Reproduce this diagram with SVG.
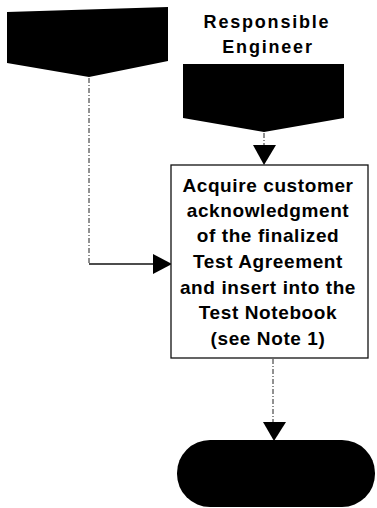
<svg xmlns="http://www.w3.org/2000/svg" width="377" height="508" viewBox="0 0 377 508">
  <style>
    .shape { fill: #000; }
    .box { fill: #fff; stroke: #111; stroke-width: 1.3; }
    .flow { fill: none; stroke: #222; stroke-width: 1; stroke-dasharray: 5 2 1 2; }
    .solid { fill: none; stroke: #111; stroke-width: 1.3; }
    .head { fill: #000; }
    .label { font-family: "Liberation Sans", Arial, sans-serif; font-weight: bold; fill: #000; text-anchor: middle; }
  </style>
  <rect width="377" height="508" fill="#fff"/>

  <!-- connectors -->
  <g id="connectors">
    <path class="flow" d="M89 78 V264"/>
    <path class="solid" d="M89 264 H156"/>
    <polygon class="head" points="153,254 172,264 153,274"/>
    <path class="flow" d="M264 133 V146"/>
    <polygon class="head" points="253,145 276,145 264,165"/>
    <path class="flow" d="M273 359 V424"/>
    <polygon class="head" points="263,422 286,422 274,441"/>
  </g>

  <!-- left off-page connector -->
  <g id="offpage-left">
    <polygon class="shape" points="7,12 168,7 168,61 89,77 7,63"/>
  </g>

  <!-- swimlane heading -->
  <g id="lane-heading">
    <text class="label" x="267" y="28" font-size="18" letter-spacing="1.8">Responsible</text>
    <text class="label" x="268" y="53" font-size="18" letter-spacing="1.8">Engineer</text>
  </g>

  <!-- right off-page connector -->
  <g id="offpage-right">
    <polygon class="shape" points="183,64 344,64 344,118 264,132 183,118"/>
  </g>

  <!-- process step -->
  <g id="acquire-step">
    <rect class="box" x="171" y="165" width="197" height="193"/>
    <g class="label" font-size="19" letter-spacing="0.6">
      <text x="268" y="192">Acquire customer</text>
      <text x="268" y="217">acknowledgment</text>
      <text x="268" y="242">of the finalized</text>
      <text x="268" y="268">Test Agreement</text>
      <text x="268" y="294">and insert into the</text>
      <text x="268" y="319">Test Notebook</text>
      <text x="268" y="345">(see Note 1)</text>
    </g>
  </g>

  <!-- terminator -->
  <g id="end">
    <rect class="shape" x="177" y="440" width="198" height="67" rx="33" ry="33"/>
  </g>
</svg>
